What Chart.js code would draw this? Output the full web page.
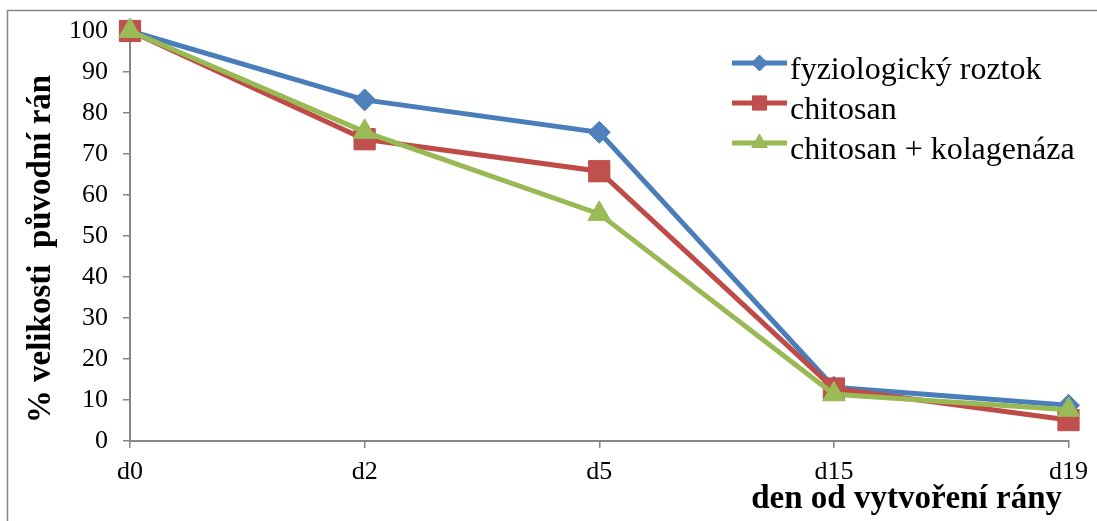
<!DOCTYPE html>
<html lang="cs">
<head>
    <meta charset="UTF-8">
    <title>Velikost ran</title>
    <script src="https://cdn.jsdelivr.net/npm/chart.js"></script>
    <style>
        html, body { margin: 0; padding: 0; background: #fff; }
        #wrap { width: 1097px; height: 521px; position: relative; }
    </style>
</head>
<body>
<div id="wrap"><canvas id="ranyChart"></canvas></div>
<script>
    // dny měření
    const dny = ['d0', 'd2', 'd5', 'd15', 'd19'];
    // % velikosti původní rány
    const fyziologicky = [100, 83.2, 75.3, 13.1, 8.7];
    const chitosan = [100, 73.6, 65.8, 12.8, 5.1];
    const chitosanKolagenaza = [100, 75.4, 55.4, 11.4, 7.6];

    const serif = "'Liberation Serif', 'Times New Roman', serif";
    const seda = '#868686';

    // rámeček kolem celého grafu
    const ramecek = {
        id: 'ramecek',
        beforeDraw(chart) {
            const c = chart.ctx;
            c.save();
            c.fillStyle = '#fff';
            c.fillRect(0, 0, chart.width, chart.height);
            c.strokeStyle = seda;
            c.lineWidth = 1.5;
            c.strokeRect(7.5, 10.5, 1300, 700);
            c.restore();
        }
    };

    // popisky os
    const popiskyOs = {
        id: 'popiskyOs',
        afterDraw(chart) {
            const c = chart.ctx;
            c.save();
            c.fillStyle = '#000';
            c.font = 'bold 33px ' + serif;
            c.textAlign = 'right';
            c.textBaseline = 'alphabetic';
            c.fillText('den od vytvoření rány', 1062, 508);
            c.translate(50, 249);
            c.rotate(-Math.PI / 2);
            c.textAlign = 'center';
            c.fillText('% velikosti  původní rán', 0, 0);
            c.restore();
        }
    };

    // legenda uvnitř grafu
    const legenda = {
        id: 'legenda',
        afterDraw(chart) {
            const c = chart.ctx;
            const velikosti = [8, 10, 9];
            c.save();
            chart.data.datasets.forEach((ds, i) => {
                const y = 63 + i * 40;
                c.strokeStyle = ds.borderColor;
                c.lineWidth = 5;
                c.beginPath();
                c.moveTo(732, y);
                c.lineTo(787, y);
                c.stroke();
                c.fillStyle = ds.pointBackgroundColor;
                c.strokeStyle = ds.pointBorderColor;
                c.lineWidth = 1;
                Chart.helpers.drawPoint(c, { pointStyle: ds.pointStyle, radius: velikosti[i], borderWidth: 1 }, 759.5, y);
                c.fillStyle = '#000';
                c.font = '32px ' + serif;
                c.textAlign = 'left';
                c.textBaseline = 'alphabetic';
                c.fillText(ds.label, 790, y + 16);
            });
            c.restore();
        }
    };

    const ctx = document.getElementById('ranyChart').getContext('2d');
    new Chart(ctx, {
        type: 'line',
        data: {
            labels: dny,
            datasets: [
                {
                    label: 'fyziologický roztok',
                    data: fyziologicky,
                    borderColor: '#4A7EBB',
                    pointBackgroundColor: '#4F81BD',
                    pointBorderColor: '#4A7EBB',
                    pointStyle: 'rectRot',
                    pointRadius: 11,
                    order: 2
                },
                {
                    label: 'chitosan',
                    data: chitosan,
                    borderColor: '#BE4B48',
                    pointBackgroundColor: '#C0504D',
                    pointBorderColor: '#BE4B48',
                    pointStyle: 'rect',
                    pointRadius: 15,
                    order: 1
                },
                {
                    label: 'chitosan + kolagenáza',
                    data: chitosanKolagenaza,
                    borderColor: '#98B954',
                    pointBackgroundColor: '#9BBB59',
                    pointBorderColor: '#98B954',
                    pointStyle: 'triangle',
                    pointRadius: 13,
                    order: 0
                }
            ].map(d => Object.assign({ borderWidth: 5, pointBorderWidth: 1, tension: 0, fill: false, clip: false }, d))
        },
        options: {
            responsive: true,
            maintainAspectRatio: false,
            animation: false,
            layout: { padding: { top: 31, right: 28, left: 0, bottom: 0 } },
            plugins: {
                legend: { display: false },
                tooltip: { enabled: false }
            },
            scales: {
                x: {
                    offset: false,
                    afterFit(scale) { scale.height = 80; },
                    grid: { drawOnChartArea: false, tickLength: 7, color: seda, lineWidth: 1.5 },
                    border: { color: seda, width: 2 },
                    ticks: { color: '#000', padding: 9, font: { family: serif, size: 26 } }
                },
                y: {
                    min: 0,
                    max: 100,
                    afterFit(scale) { scale.width = 130; },
                    grid: { drawOnChartArea: false, tickLength: 7, color: seda, lineWidth: 1.5 },
                    border: { color: seda, width: 2 },
                    ticks: { stepSize: 10, color: '#000', padding: 15, font: { family: serif, size: 26 } }
                }
            }
        },
        plugins: [ramecek, popiskyOs, legenda]
    });
</script>
</body>
</html>
